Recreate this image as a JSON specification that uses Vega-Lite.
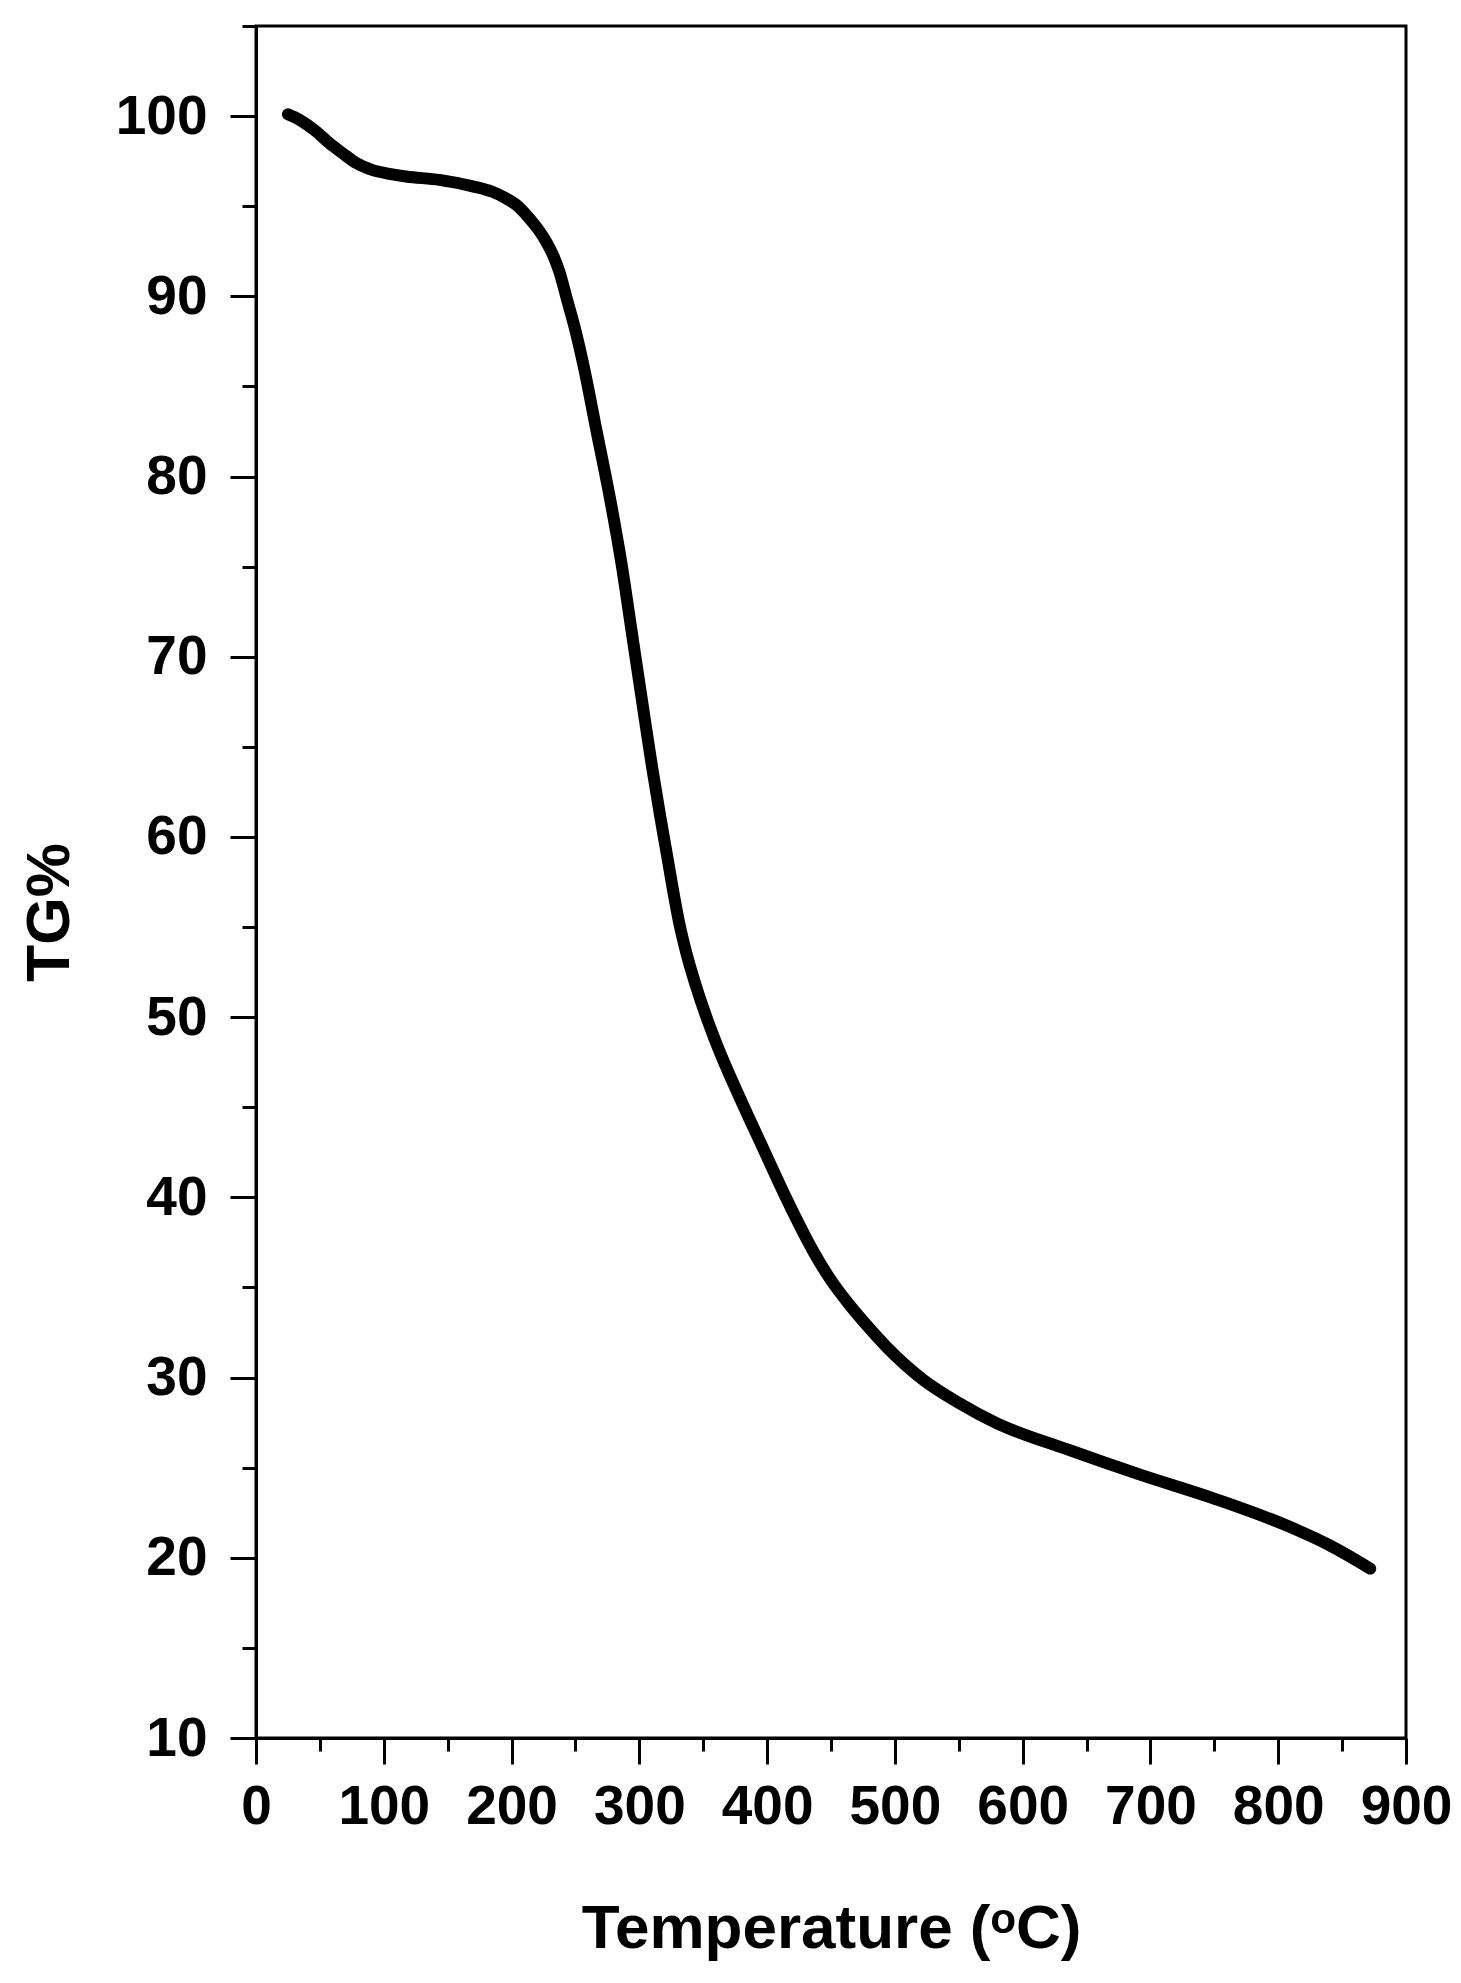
{
  "$schema": "https://vega.github.io/schema/vega-lite/v6.json",
  "autosize": {"type": "none"},
  "padding": {"left": 256, "top": 26, "right": 55, "bottom": 245},
  "width": 1150,
  "height": 1712,
  "background": "white",
  "config": {
    "view": {"stroke": "black", "strokeWidth": 3},
    "axis": {"grid": false, "domainColor": "black", "domainWidth": 3, "tickColor": "black", "tickWidth": 3, "labelColor": "black", "titleColor": "black", "labelFont": "Liberation Sans", "titleFont": "Liberation Sans", "labelFontWeight": "bold", "titleFontWeight": "bold"}
  },
  "data": {
    "values": [
      {"t": 25, "tg": 100.1}, {"t": 33.9, "tg": 99.8}, {"t": 47, "tg": 99.15}, {"t": 57.4, "tg": 98.5},
      {"t": 67.8, "tg": 97.94}, {"t": 78.3, "tg": 97.4}, {"t": 91.3, "tg": 97.0}, {"t": 104.3, "tg": 96.8},
      {"t": 117.4, "tg": 96.65}, {"t": 143.5, "tg": 96.46}, {"t": 169.6, "tg": 96.1}, {"t": 185, "tg": 95.8},
      {"t": 195.6, "tg": 95.44}, {"t": 205, "tg": 95.0}, {"t": 213.9, "tg": 94.33}, {"t": 221, "tg": 93.7},
      {"t": 227, "tg": 93.04}, {"t": 233, "tg": 92.2}, {"t": 237.4, "tg": 91.37}, {"t": 243.1, "tg": 89.9},
      {"t": 250, "tg": 88.1}, {"t": 256.2, "tg": 86.2}, {"t": 266.6, "tg": 82.5}, {"t": 277, "tg": 78.8},
      {"t": 286.2, "tg": 75.1}, {"t": 294, "tg": 71.4}, {"t": 301.8, "tg": 67.7}, {"t": 309.7, "tg": 64.0},
      {"t": 316.2, "tg": 61.2}, {"t": 321.4, "tg": 59.1}, {"t": 326, "tg": 57.2}, {"t": 331, "tg": 55.3},
      {"t": 337, "tg": 53.5}, {"t": 344, "tg": 51.8}, {"t": 352, "tg": 50.1}, {"t": 360.5, "tg": 48.5},
      {"t": 378.8, "tg": 45.5}, {"t": 397, "tg": 42.7}, {"t": 415.3, "tg": 39.9}, {"t": 436.2, "tg": 37.0},
      {"t": 450, "tg": 35.4}, {"t": 464.9, "tg": 34.0}, {"t": 478, "tg": 32.9}, {"t": 493.5, "tg": 31.7},
      {"t": 521.8, "tg": 29.9}, {"t": 550, "tg": 28.6}, {"t": 578.7, "tg": 27.5}, {"t": 635.6, "tg": 26.0},
      {"t": 692.5, "tg": 24.6}, {"t": 749.3, "tg": 23.3}, {"t": 806.2, "tg": 21.8}, {"t": 840, "tg": 20.7},
      {"t": 872, "tg": 19.4}
    ]
  },
  "resolve": {"axis": {"x": "independent", "y": "independent"}},
  "layer": [
    {
      "mark": {"type": "line", "color": "black", "strokeWidth": 12, "strokeCap": "round", "strokeJoin": "round", "interpolate": "monotone"},
      "encoding": {
        "x": {"field": "t", "type": "quantitative", "scale": {"domain": [0, 900], "nice": false, "zero": false},
          "axis": {"orient": "bottom", "values": [0, 100, 200, 300, 400, 500, 600, 700, 800, 900], "tickSize": 26, "labelFontSize": 55, "labelPadding": 16, "labelFlush": false, "labelOverlap": false,
            "title": "Temperature (ᵒC)", "titleFontSize": 62, "titleBaseline": "alphabetic", "titleAnchor": "middle", "titleX": 575, "titleY": 209}},
        "y": {"field": "tg", "type": "quantitative", "scale": {"domain": [10, 105], "nice": false, "zero": false},
          "axis": {"orient": "left", "values": [10, 20, 30, 40, 50, 60, 70, 80, 90, 100], "tickSize": 26, "labelFontSize": 55, "labelPadding": 23, "labelFlush": false, "labelOverlap": false,
            "title": "TG%", "titleFontSize": 61, "titleAngle": -90, "titleBaseline": "alphabetic", "titleAlign": "center", "titleX": -188, "titleY": 886}}
      }
    },
    {
      "mark": {"type": "line", "opacity": 0},
      "encoding": {
        "x": {"field": "t", "type": "quantitative", "scale": {"domain": [0, 900], "nice": false, "zero": false},
          "axis": {"orient": "bottom", "values": [50, 150, 250, 350, 450, 550, 650, 750, 850], "tickSize": 13, "labels": false, "domain": false, "title": null}},
        "y": {"field": "tg", "type": "quantitative", "scale": {"domain": [10, 105], "nice": false, "zero": false},
          "axis": {"orient": "left", "values": [15, 25, 35, 45, 55, 65, 75, 85, 95, 105], "tickSize": 14, "labels": false, "domain": false, "title": null}}
      }
    }
  ]
}
